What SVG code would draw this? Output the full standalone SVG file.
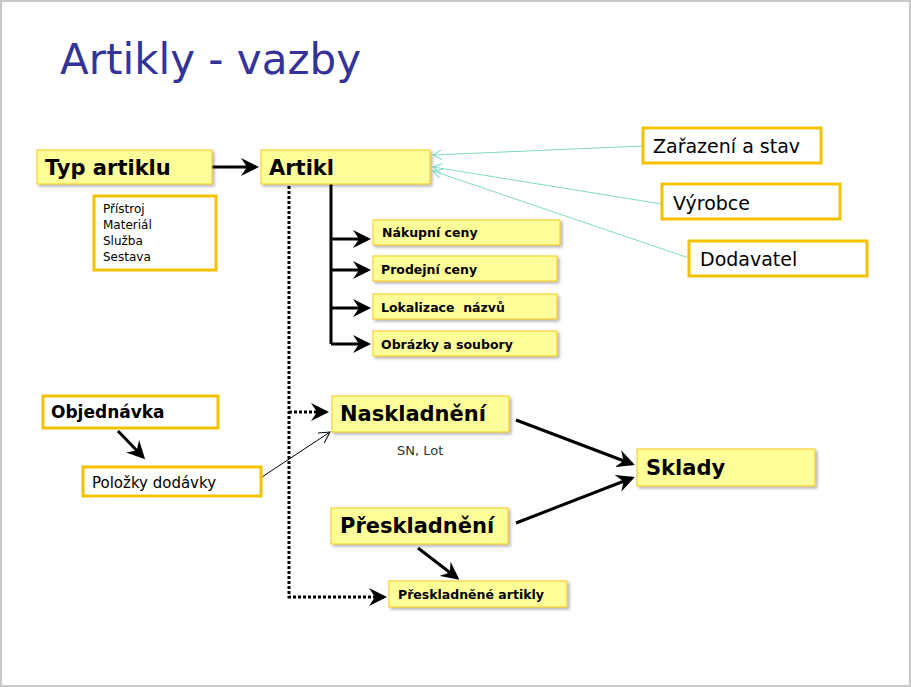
<svg xmlns="http://www.w3.org/2000/svg" width="911" height="687" viewBox="0 0 911 687">
<defs>
<marker id="ah" markerWidth="6" markerHeight="6" refX="5" refY="3" orient="auto" markerUnits="strokeWidth"><path d="M0,0 L6,3 L0,6 L2,3 Z" fill="#000"/></marker>
<marker id="at" markerWidth="10" markerHeight="10" refX="9" refY="5" orient="auto" markerUnits="userSpaceOnUse"><path d="M0,0 L9,5 L0,10" fill="none" stroke="#7fd8c8" stroke-width="1"/></marker>
<marker id="ak" markerWidth="12" markerHeight="12" refX="11" refY="6" orient="auto" markerUnits="userSpaceOnUse"><path d="M0,0 L11,6 L0,12" fill="none" stroke="#000" stroke-width="1"/></marker>
<filter id="sh" x="-10%" y="-10%" width="130%" height="140%"><feDropShadow dx="2" dy="2" stdDeviation="1.5" flood-color="#000" flood-opacity="0.3"/></filter>
</defs>
<style>
.y{fill:#ffff99;stroke:#f5c518;stroke-width:1;filter:url(#sh)}
.w{fill:#fff;stroke:#f2c100;stroke-width:3}
text{font-family:"DejaVu Sans",Verdana,sans-serif;fill:#000}
.b{font-weight:bold}
.c{stroke:#000;fill:none}
</style>
<rect x="0" y="0" width="911" height="687" fill="#fff"/>
<rect x="1" y="1" width="909" height="685" fill="none" stroke="#c8c8c8" stroke-width="2"/>
<text x="60" y="74" font-size="42" style="fill:#333399" font-family="DejaVu Sans Condensed, sans-serif">Artikly - vazby</text>

<g id="connectors">
<line class="c" x1="212" y1="167" x2="256" y2="167" stroke-width="3" marker-end="url(#ah)"/>
<polyline class="c" points="289,186 289,597 384,597" stroke-width="3" stroke-dasharray="3,2" marker-end="url(#ah)"/>
<line class="c" x1="289" y1="412" x2="326" y2="412" stroke-width="3" stroke-dasharray="3,2" marker-end="url(#ah)"/>
<line class="c" x1="331" y1="184" x2="331" y2="344" stroke-width="3"/>
<line class="c" x1="331" y1="239" x2="368" y2="239" stroke-width="3" marker-end="url(#ah)"/>
<line class="c" x1="331" y1="270" x2="368" y2="270" stroke-width="3" marker-end="url(#ah)"/>
<line class="c" x1="331" y1="308" x2="368" y2="308" stroke-width="3" marker-end="url(#ah)"/>
<line class="c" x1="331" y1="344" x2="368" y2="344" stroke-width="3" marker-end="url(#ah)"/>
<line x1="643" y1="146" x2="433" y2="155" stroke="#7fd8c8" stroke-width="1" marker-end="url(#at)"/>
<line x1="662" y1="204" x2="433" y2="167" stroke="#7fd8c8" stroke-width="1" marker-end="url(#at)"/>
<line x1="689" y1="258" x2="433" y2="171" stroke="#7fd8c8" stroke-width="1" marker-end="url(#at)"/>
<line class="c" x1="118" y1="431" x2="143" y2="457" stroke-width="3" marker-end="url(#ah)"/>
<line class="c" x1="262" y1="477" x2="330" y2="432" stroke-width="1" marker-end="url(#ak)"/>
<line class="c" x1="516" y1="420" x2="632" y2="464" stroke-width="3" marker-end="url(#ah)"/>
<line class="c" x1="516" y1="523" x2="632" y2="478" stroke-width="3" marker-end="url(#ah)"/>
<line class="c" x1="418" y1="548" x2="457" y2="578" stroke-width="3" marker-end="url(#ah)"/>
</g>

<g id="typ"><rect class="y" x="37" y="150" width="175" height="34"/><text class="b" x="45" y="175" font-size="21">Typ artiklu</text></g>
<g id="artikl"><rect class="y" x="261" y="150" width="169" height="34"/><text class="b" x="269" y="175" font-size="21">Artikl</text></g>
<g id="typy"><rect class="w" x="94" y="196" width="122" height="74"/>
<text x="103" y="213" font-size="12">Přístroj</text><text x="103" y="229" font-size="12">Materiál</text><text x="103" y="245" font-size="12">Služba</text><text x="103" y="261" font-size="12">Sestava</text></g>
<g id="nakupni"><rect class="y" x="373" y="220" width="187" height="25"/><text class="b" x="382" y="237" font-size="12.5">Nákupní ceny</text></g>
<g id="prodejni"><rect class="y" x="373" y="256" width="184" height="25"/><text class="b" x="381" y="274" font-size="12.5">Prodejní ceny</text></g>
<g id="lokalizace"><rect class="y" x="373" y="294" width="184" height="25"/><text class="b" x="381" y="312" font-size="12.5" xml:space="preserve">Lokalizace  názvů</text></g>
<g id="obrazky"><rect class="y" x="373" y="331" width="184" height="25"/><text class="b" x="381" y="349" font-size="12.5">Obrázky a soubory</text></g>
<g id="zarazeni"><rect class="w" x="643" y="128" width="178" height="35"/><text x="653" y="153" font-size="19">Zařazení a stav</text></g>
<g id="vyrobce"><rect class="w" x="662" y="184" width="178" height="35"/><text x="673" y="210" font-size="19">Výrobce</text></g>
<g id="dodavatel"><rect class="w" x="689" y="241" width="178" height="35"/><text x="700" y="266" font-size="19">Dodavatel</text></g>
<g id="objednavka"><rect class="w" x="43" y="396" width="175" height="32"/><text class="b" x="51" y="418" font-size="17">Objednávka</text></g>
<g id="polozky"><rect class="w" x="83" y="467" width="178" height="29"/><text x="92" y="488" font-size="15">Položky dodávky</text></g>
<g id="naskladneni"><rect class="y" x="332" y="396" width="177" height="36"/><text class="b" x="340" y="421" font-size="21">Naskladnění</text><text x="397" y="455" font-size="13" style="fill:#333">SN, Lot</text></g>
<g id="sklady"><rect class="y" x="637" y="449" width="178" height="37"/><text class="b" x="646" y="475" font-size="21">Sklady</text></g>
<g id="preskladneni"><rect class="y" x="331" y="508" width="177" height="36"/><text class="b" x="340" y="533" font-size="21">Přeskladnění</text></g>
<g id="preskladnene"><rect class="y" x="389" y="581" width="178" height="26"/><text class="b" x="398" y="599" font-size="12.5">Přeskladněné artikly</text></g>
</svg>
